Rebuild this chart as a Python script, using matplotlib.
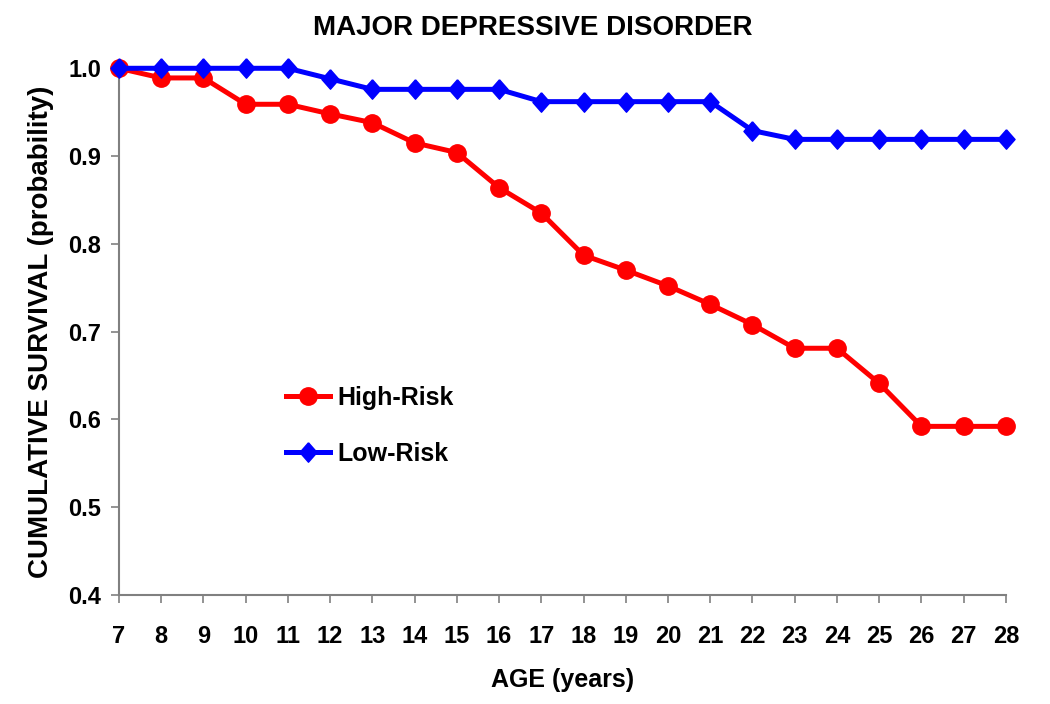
import matplotlib
matplotlib.use("Agg")
import matplotlib.pyplot as plt

ages = list(range(7, 29))
high_risk = [1.0, 0.989, 0.989, 0.959, 0.959, 0.948, 0.938, 0.915, 0.904, 0.864, 0.835,
             0.787, 0.770, 0.752, 0.731, 0.708, 0.681, 0.681, 0.641, 0.592, 0.592, 0.592]
low_risk = [1.0, 1.0, 1.0, 1.0, 1.0, 0.988, 0.976, 0.976, 0.976, 0.976, 0.962,
            0.962, 0.962, 0.962, 0.962, 0.929, 0.919, 0.919, 0.919, 0.919, 0.919, 0.919]
yticks = [0.4, 0.5, 0.6, 0.7, 0.8, 0.9, 1.0]

plt.rcParams['font.family'] = ['Liberation Sans', 'DejaVu Sans']
plt.rcParams['font.weight'] = 'bold'

fig = plt.figure(figsize=(10.5, 7.04), dpi=100)
ax = fig.add_axes([0.1133, 0.155, 0.958 - 0.1133, 0.903 - 0.155])

diamond = [(0, 1), (0.88, 0), (0, -1), (-0.88, 0), (0, 1)]
ax.plot(ages, high_risk, color='#FF0000', lw=3.6, marker='o', ms=12.5,
        label='High-Risk', clip_on=False, zorder=3)
ax.plot(ages, low_risk, color='#0000FF', lw=3.6, marker=diamond, ms=14,
        label='Low-Risk', clip_on=False, zorder=4)

ax.set_xlim(7, 28)
ax.set_ylim(0.4, 1.0)
ax.set_xticks(ages)
ax.set_yticks(yticks)
ax.set_yticklabels([f"{v:.1f}" for v in yticks])
for s in ['top', 'right']:
    ax.spines[s].set_visible(False)
for s in ['left', 'bottom']:
    ax.spines[s].set_color('#808080')
    ax.spines[s].set_linewidth(1.5)
ax.tick_params(axis='both', direction='out', color='#808080', width=1.2, length=6,
               labelsize=17, pad=7)
ax.tick_params(axis='x', pad=16)
for lab in ax.get_xticklabels() + ax.get_yticklabels():
    lab.set_fontweight('bold')

fig.text(0.507, 0.960, 'MAJOR DEPRESSIVE DISORDER', fontsize=20, fontweight='bold',
         ha='center', va='center')
ax.set_xlabel('AGE (years)', fontsize=18, fontweight='bold', labelpad=14)
ax.set_ylabel('CUMULATIVE SURVIVAL (probability)', fontsize=20, fontweight='bold', labelpad=10)

leg = ax.legend(loc='upper left', bbox_to_anchor=(0.163, 0.44), frameon=False,
                fontsize=18, handlelength=1.75, labelspacing=1.3, handletextpad=0.3)
for t in leg.get_texts():
    t.set_fontweight('bold')

fig.savefig('out.png', dpi=100)
